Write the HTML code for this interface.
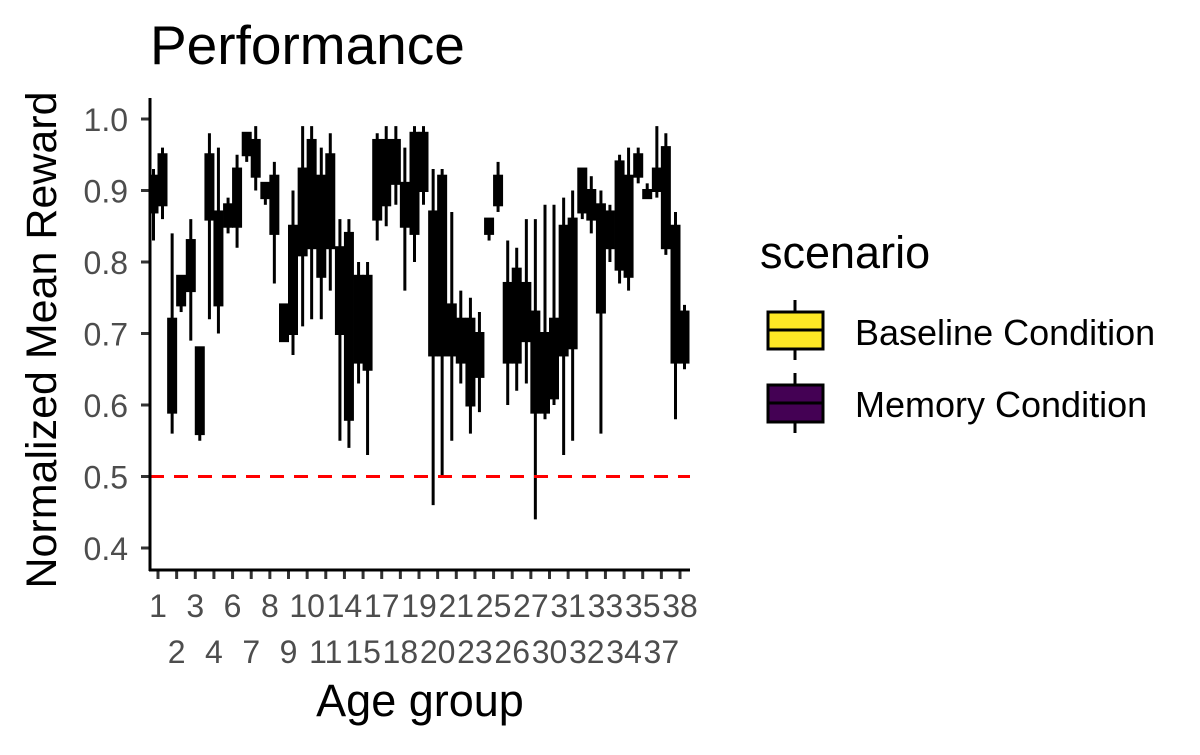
<!DOCTYPE html>
<html><head><meta charset="utf-8"><style>
body{margin:0;background:#fff;}
svg text{font-family:"Liberation Sans",Arial,sans-serif;}
</style></head><body>
<svg id="chart" width="1200" height="750" xmlns="http://www.w3.org/2000/svg">
<text x="150" y="64" font-size="55" fill="#000">Performance</text>
<text transform="translate(56,340) rotate(-90)" text-anchor="middle" font-size="43" fill="#000">Normalized Mean Reward</text>
<text x="420" y="716" text-anchor="middle" font-size="45" fill="#000">Age group</text>
<g id="yaxis"></g>
<g id="xaxis"></g>
<g id="boxes"></g>
<line x1="150" x2="690" id="refline" stroke="#ff0000" stroke-width="3" stroke-dasharray="14,10"/>
<line x1="150" y1="98" x2="150" y2="571" stroke="#000" stroke-width="3"/>
<line x1="149" y1="570" x2="690" y2="570" stroke="#000" stroke-width="3"/>
<g>
<text x="760" y="268" font-size="45" fill="#000">scenario</text>
<g>
<line x1="795" y1="300" x2="795" y2="360" stroke="#000" stroke-width="3"/>
<rect x="768" y="312" width="55" height="37" fill="#FDE725" stroke="#000" stroke-width="3"/>
<line x1="768" y1="330" x2="823" y2="330" stroke="#000" stroke-width="3"/>
<text x="855" y="345" font-size="36" fill="#000">Baseline Condition</text>
</g>
<g>
<line x1="795" y1="373" x2="795" y2="433" stroke="#000" stroke-width="3"/>
<rect x="768" y="385" width="55" height="37" fill="#440154" stroke="#000" stroke-width="3"/>
<line x1="768" y1="403" x2="823" y2="403" stroke="#000" stroke-width="3"/>
<text x="855" y="417" font-size="36" fill="#000">Memory Condition</text>
</g>
</g>
</svg>
<script>
const categories=["1","2","3","4","6","7","8","9","10","11","14","15","17","18","19","20","21","23","25","26","27","30","31","32","33","34","35","37","38"];
const baseline=[[0.83,0.87,0.89,0.92,0.93],[0.56,0.59,0.65,0.72,0.84],[0.69,0.76,0.80,0.83,0.86],[0.72,0.86,0.90,0.95,0.98],[0.84,0.85,0.87,0.88,0.89],[0.94,0.95,0.96,0.98,0.98],[0.88,0.89,0.90,0.91,0.91],[0.69,0.69,0.71,0.74,0.74],[0.71,0.81,0.86,0.93,0.99],[0.72,0.78,0.84,0.92,0.96],[0.55,0.70,0.74,0.82,0.86],[0.63,0.66,0.72,0.78,0.80],[0.83,0.86,0.90,0.97,0.98],[0.88,0.91,0.93,0.97,0.99],[0.80,0.84,0.90,0.98,0.99],[0.46,0.67,0.75,0.87,0.93],[0.55,0.67,0.70,0.74,0.87],[0.56,0.60,0.66,0.72,0.75],[0.83,0.84,0.85,0.86,0.86],[0.60,0.66,0.70,0.77,0.83],[0.63,0.69,0.73,0.77,0.86],[0.58,0.59,0.62,0.70,0.88],[0.53,0.67,0.72,0.85,0.89],[0.86,0.87,0.89,0.93,0.93],[0.56,0.73,0.80,0.88,0.90],[0.77,0.79,0.85,0.94,0.95],[0.91,0.92,0.94,0.95,0.96],[0.89,0.90,0.92,0.93,0.99],[0.58,0.66,0.72,0.85,0.87]];
const memory=[[0.86,0.88,0.91,0.95,0.96],[0.73,0.74,0.76,0.78,0.78],[0.55,0.56,0.60,0.68,0.68],[0.70,0.74,0.80,0.87,0.96],[0.82,0.85,0.89,0.93,0.95],[0.90,0.92,0.95,0.97,0.99],[0.77,0.84,0.88,0.92,0.94],[0.67,0.70,0.75,0.85,0.90],[0.72,0.82,0.88,0.97,0.99],[0.76,0.82,0.90,0.95,0.98],[0.54,0.58,0.70,0.84,0.86],[0.53,0.65,0.70,0.78,0.80],[0.85,0.88,0.92,0.97,0.99],[0.76,0.85,0.88,0.91,0.96],[0.88,0.90,0.94,0.98,0.99],[0.50,0.67,0.80,0.92,0.93],[0.63,0.66,0.70,0.72,0.76],[0.59,0.64,0.67,0.70,0.73],[0.87,0.88,0.90,0.92,0.94],[0.62,0.66,0.72,0.79,0.82],[0.44,0.59,0.65,0.73,0.86],[0.60,0.61,0.66,0.72,0.88],[0.55,0.68,0.78,0.86,0.90],[0.84,0.86,0.88,0.90,0.92],[0.80,0.82,0.85,0.87,0.88],[0.76,0.78,0.83,0.92,0.96],[0.89,0.89,0.90,0.90,0.91],[0.81,0.82,0.88,0.96,0.98],[0.65,0.66,0.68,0.73,0.74]];
const yTicks=[0.4,0.5,0.6,0.7,0.8,0.9,1.0];
const refValue=0.5;
const NS="http://www.w3.org/2000/svg";
function y(v){return 119+(1.0-v)*715;}
function x(i){return 158+i*(680-158)/(categories.length-1);}
function mk(t,a,p){const e=document.createElementNS(NS,t);for(const k in a)e.setAttribute(k,a[k]);p.appendChild(e);return e;}
const ya=document.getElementById('yaxis'),xa=document.getElementById('xaxis'),bx=document.getElementById('boxes');
yTicks.forEach(v=>{
 const l=mk('line',{x1:141,x2:150,y1:y(v),y2:y(v),stroke:'#333','stroke-width':3},ya);
 
 
 const t=mk('text',{x:128,y:y(v)+12,'text-anchor':'end','font-size':32,fill:'#4d4d4d'},ya);
 t.textContent=v.toFixed(1);
 
 
});
categories.forEach((c,i)=>{
 const l=mk('line',{x1:x(i),x2:x(i),y1:570,y2:579,stroke:'#333','stroke-width':3},xa);
 
 
 const t=mk('text',{x:x(i),y:(i%2===0?617:663),'text-anchor':'middle','font-size':32,fill:'#4d4d4d'},xa);
 t.textContent=c;
 
 
});
function box(s,cx,name){
 const g=mk('g',{},bx);
 
 
 mk('line',{x1:cx,x2:cx,y1:y(s[4]),y2:y(s[0]),stroke:'#000','stroke-width':3},g);
 mk('rect',{x:cx-3.5,y:y(s[3]),width:7,height:Math.max(1,y(s[1])-y(s[3])),fill:'#000',stroke:'#000','stroke-width':3},g);
}
categories.forEach((c,i)=>{
 box(baseline[i],x(i)-4.5,'box-baseline-'+c);
 box(memory[i],x(i)+4.5,'box-memory-'+c);
});
const rl=document.getElementById('refline');rl.setAttribute('y1',y(refValue));rl.setAttribute('y2',y(refValue));
</script>
</body></html>
